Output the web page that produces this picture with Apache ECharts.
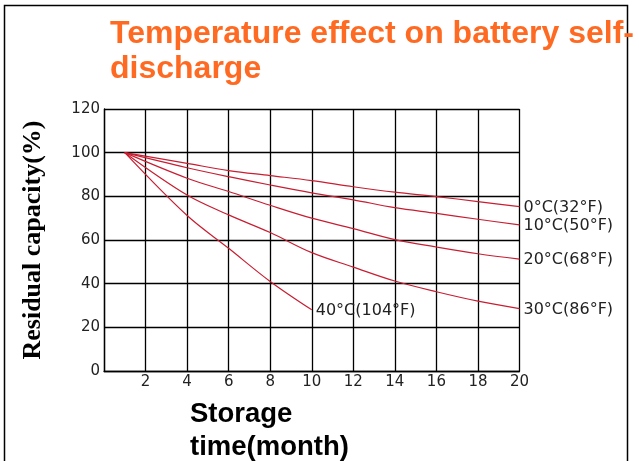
<!DOCTYPE html>
<html>
<head>
<meta charset="utf-8">
<script src="https://cdn.jsdelivr.net/npm/echarts@6/dist/echarts.min.js"></script>
<style>
html,body{margin:0;padding:0;background:#fff;}
#chart{width:639px;height:461px;}
</style>
</head>
<body>
<div id="chart"></div>
<script>
// Data
const months = [1, 4, 6, 8, 10, 12, 14, 16, 18, 20];
const months40 = [1, 4, 6, 8, 10];
const cap0C  = [100, 95.1, 91.8, 89.5, 87.2, 84.4, 81.9, 79.9, 77.6, 75.3];
const cap10C = [100, 93.1, 89.0, 85.2, 81.6, 78.4, 74.8, 72.2, 69.5, 66.9];
const cap20C = [100, 88.3, 82.2, 75.9, 70.0, 65.2, 60.2, 56.8, 53.7, 51.2];
const cap30C = [100, 80.6, 71.5, 63.4, 54.2, 47.6, 41.2, 36.3, 32.0, 28.6];
const cap40C = [100, 71.2, 56.2, 41.0, 28.0];
const seriesNames = ['0°C(32°F)', '10°C(50°F)', '20°C(68°F)', '30°C(86°F)', '40°C(104°F)'];
const xTicks = [2, 4, 6, 8, 10, 12, 14, 16, 18, 20];
const yTicks = [0, 20, 40, 60, 80, 100, 120];
const titleText = 'Temperature effect on battery self-\ndischarge';
const xName = 'Storage\ntime(month)';
const yName = 'Residual capacity(%)';

function pairs(xs, ys) { return xs.map((x, i) => [x, ys[i]]); }
const allSeries = [
  pairs(months, cap0C), pairs(months, cap10C), pairs(months, cap20C),
  pairs(months, cap30C), pairs(months40, cap40C)
];

const chart = echarts.init(document.getElementById('chart'));
const lineColor = '#c81e32';
chart.setOption({
  backgroundColor: '#fff',
  animation: false,
  title: [
    {
      text: titleText, left: 105, top: 12,
      textStyle: { fontFamily: 'Liberation Sans', fontWeight: 'bold', fontSize: 32, color: '#ff6a22', lineHeight: 35 }
    },
    {
      text: xName, left: 185, top: 393,
      textStyle: { fontFamily: 'Liberation Sans', fontWeight: 'bold', fontSize: 27.5, color: '#000', lineHeight: 33 }
    }
  ],
  graphic: [{
    type: 'rect', shape: { x: 4.5, y: 5.5, width: 623, height: 470 },
    style: { fill: 'none', stroke: '#000', lineWidth: 1.5 }, silent: true, z: -1
  }],
  grid: { left: 104, right: 119.5, top: 109, bottom: 90, containLabel: false },
  xAxis: {
    type: 'value', min: 0, max: 20, interval: 2,
    axisLine: { show: true, lineStyle: { color: '#000', width: 1.3 } },
    axisTick: { show: false },
    splitLine: { show: true, lineStyle: { color: '#000', width: 1.3 } },
    axisLabel: {
      margin: 4, fontFamily: 'DejaVu Sans', fontSize: 15, color: '#222',
      formatter: v => (xTicks.indexOf(v) >= 0 ? String(v) : '')
    }
  },
  yAxis: {
    type: 'value', min: 0, max: 120, interval: 20,
    name: yName, nameLocation: 'middle', nameRotate: 90, nameGap: 58,
    nameTextStyle: { fontFamily: 'Liberation Serif', fontWeight: 'bold', fontSize: 26, color: '#000' },
    axisLine: { show: true, lineStyle: { color: '#000', width: 1.3 } },
    axisTick: { show: false },
    splitLine: { show: true, lineStyle: { color: '#000', width: 1.3 } },
    axisLabel: {
      margin: 4, fontFamily: 'DejaVu Sans', fontSize: 15, color: '#222',
      formatter: v => (yTicks.indexOf(v) >= 0 ? String(v) : '')
    }
  },
  series: allSeries.map((d, i) => ({
    type: 'line', name: seriesNames[i], data: d, smooth: 0.35,
    symbol: 'none', lineStyle: { color: lineColor, width: 1.2 },
    endLabel: {
      show: true, formatter: seriesNames[i], distance: 4, offset: [0, 1],
      fontFamily: 'DejaVu Sans', fontSize: 16, color: '#222'
    }
  }))
});
</script>
</body>
</html>
